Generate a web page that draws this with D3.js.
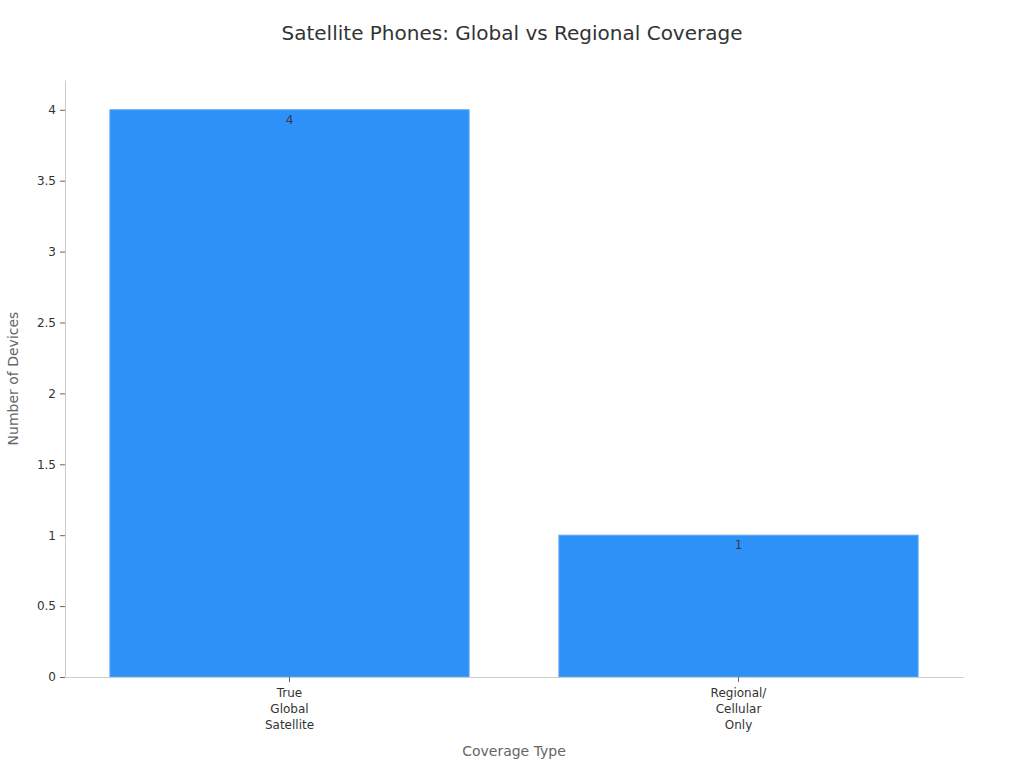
<!DOCTYPE html>
<html>
<head>
<meta charset="utf-8">
<script src="https://cdn.jsdelivr.net/npm/d3@7"></script>
<style>
body { margin: 0; background: #fff; font-family: "DejaVu Sans", sans-serif; }
</style>
</head>
<body>
<script>
// chart data
var categories = [["True", "Global", "Satellite"], ["Regional/", "Cellular", "Only"]];
var values = [4, 1];
var yTicks = [0, 0.5, 1, 1.5, 2, 2.5, 3, 3.5, 4];

var width = 1024,
    height = 768,
    margin = {top: 80, right: 61, bottom: 91, left: 65};

var svg = d3.select('body')
    .append('svg')
    .attr('width', width)
    .attr('height', height)
    .style("font-family", "DejaVu Sans");

var x = d3.scaleBand()
    .domain(d3.range(values.length))
    .range([margin.left, width - margin.right])
    .paddingInner(0.2)
    .paddingOuter(0.1);

var y = d3.scaleLinear()
    .domain([0, 4.21])
    .range([height - margin.bottom, margin.top]);

svg.append("text")
    .attr("x", width / 2)
    .attr("y", 40)
    .attr("text-anchor", "middle")
    .style("font-size", "20px")
    .style("fill", "#333")
    .text("Satellite Phones: Global vs Regional Coverage");

// y axis
var yAxis = svg.append("g")
    .attr("transform", "translate(" + margin.left + ",0)")
    .call(d3.axisLeft(y).tickValues(yTicks).tickFormat(d3.format("~g"))
        .tickSize(5).tickPadding(4).tickSizeOuter(0));
yAxis.attr("font-family", "DejaVu Sans");
yAxis.select(".domain").attr("stroke", "#ccc");
yAxis.selectAll(".tick line").attr("stroke", "#666");
yAxis.selectAll(".tick text")
    .style("font-size", "12px")
    .style("fill", "#333");

// bars
svg.selectAll("rect.bar")
    .data(values)
    .enter()
    .append("rect")
    .attr("class", "bar")
    .attr("x", function (d, i) { return x(i); })
    .attr("y", function (d) { return y(d); })
    .attr("width", x.bandwidth())
    .attr("height", function (d) { return y(0) - y(d); })
    .attr("fill", "#2e91f8")
    .attr("stroke", "#5aa8f5")
    .attr("stroke-width", 1);

svg.selectAll("text.val")
    .data(values)
    .enter()
    .append("text")
    .attr("class", "val")
    .attr("x", function (d, i) { return x(i) + x.bandwidth() / 2; })
    .attr("y", function (d) { return y(d) + 14; })
    .attr("text-anchor", "middle")
    .style("font-size", "12px")
    .style("fill", "#3a3a4a")
    .text(function (d) { return d; });

// x axis
var xAxis = svg.append("g")
    .attr("transform", "translate(0," + y(0) + ")")
    .call(d3.axisBottom(x).tickSize(5).tickSizeOuter(0).tickFormat(""));
xAxis.attr("font-family", "DejaVu Sans");
xAxis.select(".domain").attr("stroke", "#ccc");
xAxis.selectAll(".tick line").attr("stroke", "#666");
xAxis.selectAll(".tick").each(function (d) {
    var t = d3.select(this).append("text")
        .attr("text-anchor", "middle")
        .style("font-size", "12px")
        .style("fill", "#333");
    categories[d].forEach(function (line, k) {
        t.append("tspan")
            .attr("x", 0)
            .attr("y", 20 + k * 16)
            .text(line);
    });
});

svg.append("text")
    .attr("x", (margin.left + width - margin.right) / 2)
    .attr("y", 756)
    .attr("text-anchor", "middle")
    .style("font-size", "14px")
    .style("fill", "#666")
    .text("Coverage Type");

svg.append("text")
    .attr("transform", "translate(18," + ((margin.top + height - margin.bottom) / 2) + ") rotate(-90)")
    .attr("text-anchor", "middle")
    .style("font-size", "14px")
    .style("fill", "#666")
    .text("Number of Devices");
</script>
</body>
</html>
